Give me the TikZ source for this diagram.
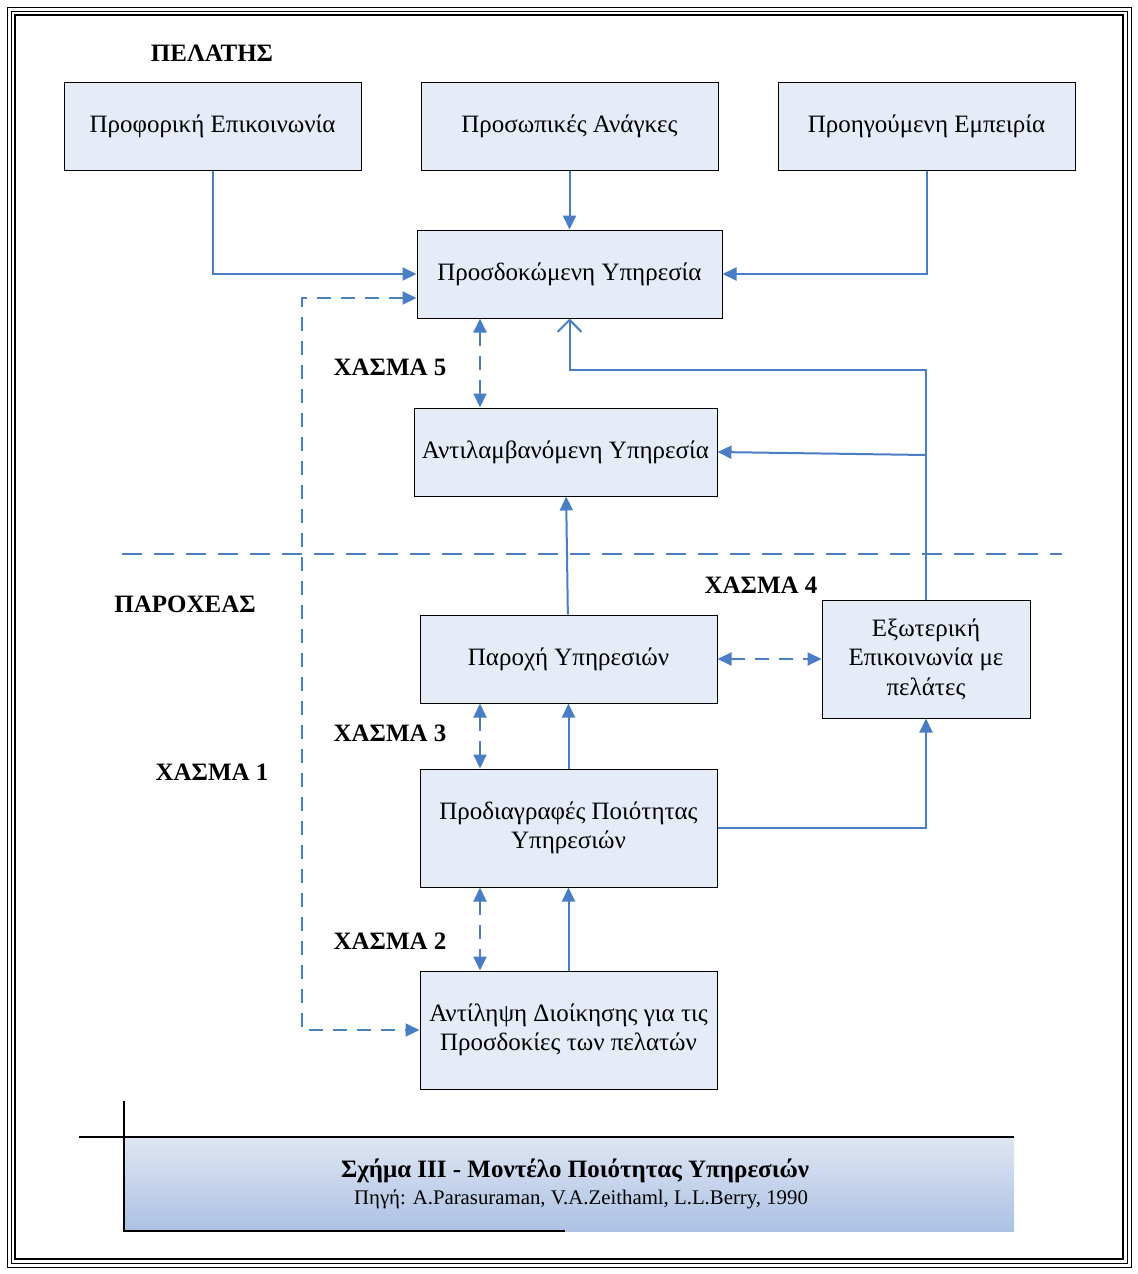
\documentclass[tikz,border=0pt]{standalone}
\usepackage{fontspec}
\setmainfont{Liberation Serif}
\usetikzlibrary{arrows.meta}
\usetikzlibrary{calc}
\definecolor{linkblue}{RGB}{74,126,196}
\definecolor{boxfill}{RGB}{230,236,247}
\definecolor{captop}{RGB}{223,230,243}
\definecolor{capbot}{RGB}{172,193,227}
\tikzstyle{block}=[rectangle,draw=black,line width=0.5pt,fill=boxfill,align=center,inner sep=0pt,font=\fontsize{12.5}{14.7}\selectfont]
\tikzstyle{gaplabel}=[font=\bfseries\fontsize{12.5}{14}\selectfont]
\tikzstyle{link}=[draw=linkblue,line width=1pt,-{Triangle[length=7pt,width=6.5pt]}]
\tikzstyle{gaplink}=[draw=linkblue,line width=1pt,dash pattern=on 7pt off 5pt,{Triangle[length=7pt,width=6.5pt]}-{Triangle[length=7pt,width=6.5pt]}]

\begin{document}
\begin{tikzpicture}[x=0.5pt,y=-0.5pt]

  \def\u{0.5pt};
  \useasboundingbox (0,0) rectangle (1138,1274);

  % frame
  \draw[line width=0.5pt] (7,7) rectangle (1131,1267);
  \draw[line width=0.4pt] (11,11) rectangle (1127,1263);
  \draw[line width=0.9pt] (15,15) rectangle (1123,1259);

   \foreach \x/\y/\w/\h/\name/\label in {
      212.5/126/297/88/oral/{Προφορική Επικοινωνία},
      569.5/126/297/88/personal/{Προσωπικές Ανάγκες},
      926.5/126/297/88/past/{Προηγούμενη Εμπειρία},
      569.5/274/305/88/expected/{Προσδοκώμενη Υπηρεσία},
      565.5/452/303/88/perceived/{Αντιλαμβανόμενη Υπηρεσία},
      568.5/659/297/88/delivery/{Παροχή Υπηρεσιών},
      926/659/208/118/external/{Εξωτερική\\Επικοινωνία με\\πελάτες},
      568.5/828/297/118/spec/{Προδιαγραφές Ποιότητας\\Υπηρεσιών},
      568.5/1030/297/118/mgmt/{Αντίληψη Διοίκησης για τις\\Προσδοκίες των πελατών}}
          \node[block,minimum width=\w*\u,minimum height=\h*\u] (\name) at (\x,\y) {\label};

  \foreach \x/\y/\name/\label in {212/53/client/ΠΕΛΑΤΗΣ, 185/604/provider/ΠΑΡΟΧΕΑΣ,
      212/772/gapone/ΧΑΣΜΑ 1, 390/941/gaptwo/ΧΑΣΜΑ 2, 390/733/gapthree/ΧΑΣΜΑ 3,
      761/585/gapfour/ΧΑΣΜΑ 4, 390/367/gapfive/ΧΑΣΜΑ 5}
          \node[gaplabel] (\name) at (\x,\y) {\label};

  \draw[linkblue,line width=1pt,dash pattern=on 10pt off 6pt] (122,554) -- (1062,554);

  \coordinate (gx) at (480,0);
  \coordinate (k1) at (302,298);
  \coordinate (k2) at (302,1030);
  \coordinate (k3) at (926,370);
  \coordinate (k4) at (926,455);

  \foreach \source/ \dest in {personal/expected, delivery/perceived, spec/delivery, mgmt/spec}
         \draw[link] (\source) -- (\dest);

  \draw[link] (oral.south) |- (expected.west);
  \draw[link] (past.south) |- (expected.east);
  \draw[link] (spec.east) -| (external.south);
  \draw[link] (k4) -- (perceived.east);
  \draw[draw=linkblue,line width=1pt,-{Straight Barb[length=6pt,width=12pt]}] (external.north) -- (k3) -| (expected.south);

  \foreach \upper/ \lower in {expected/perceived, delivery/spec, spec/mgmt}
         \draw[gaplink] (\upper.south -| gx) -- (\lower.north -| gx);
  \draw[gaplink] (expected.west |- k1) -- (k1) -- (k2) -- (mgmt.west);
  \draw[gaplink] (delivery.east) -- (external.west);

  % caption
  \shade[top color=captop,bottom color=capbot] (124,1137) rectangle (1014,1231);
  \draw[line width=0.6pt] (79,1137) -- (1014,1137);
  \draw[line width=0.6pt] (124,1101) -- (124,1231) -- (565,1231);
  \node[font=\bfseries\fontsize{12.5}{14}\selectfont] (captitle) at (575,1171) {Σχήμα ΙΙΙ - Μοντέλο Ποιότητας Υπηρεσιών};
  \node[font=\fontsize{10.4}{12}\selectfont] (capsrc) at (581,1199) {Πηγή: A.Parasuraman, V.A.Zeithaml, L.L.Berry, 1990};

   \end{tikzpicture}
\end{document}
